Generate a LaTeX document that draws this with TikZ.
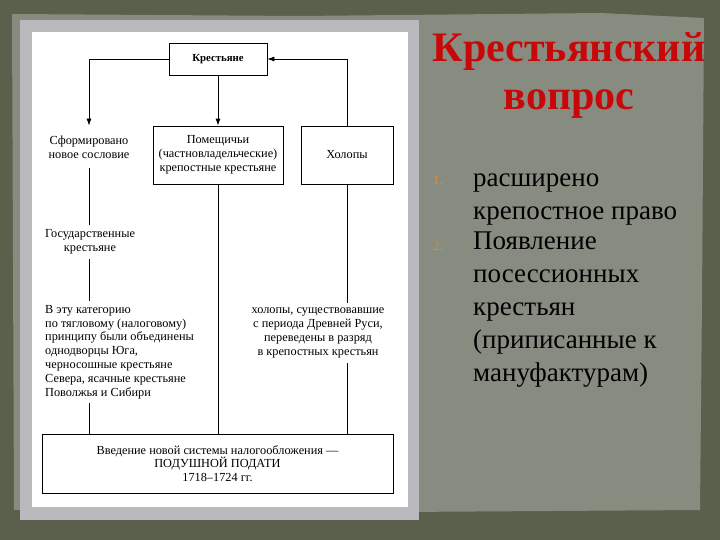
\documentclass[tikz,border=0pt]{standalone}
\usepackage{fontspec}
\setmainfont{Liberation Serif}
\usetikzlibrary{positioning, arrows, arrows.meta}
\definecolor{slidedark}{RGB}{90,96,76}
\definecolor{slidepaper}{RGB}{136,140,128}
\definecolor{framegray}{RGB}{186,186,190}
\definecolor{titlered}{RGB}{200,8,8}
\definecolor{numtan}{RGB}{206,142,72}
\tikzstyle{box} = [rectangle, draw=black, line width=0.7pt, text centered, align=center, font=\fontsize{12.3}{13.8}\selectfont]
\tikzstyle{plain} = [align=center, inner sep=0pt, font=\fontsize{12.3}{13.8}\selectfont]
\tikzstyle{link} = [line width=0.7pt]
\tikzstyle{arr} = [line width=0.7pt, -{Latex[length=7pt, width=5pt]}]
\tikzstyle{listtext} = [anchor=base west, align=left, inner sep=0pt, font=\fontsize{27}{33}\selectfont]
\tikzstyle{listnum} = [anchor=base west, inner sep=0pt, text=numtan, font=\fontsize{13}{14}\selectfont]

\begin{document}
\begin{tikzpicture}[x=1pt, y=-1pt]
    % slide background
    \fill[slidedark] (0,0) rectangle (720,540);
    \fill[slidepaper] (12,14) -- (300,16) -- (600,13) -- (704,18) -- (702,300) -- (700,510) -- (400,512) -- (120,508) -- (14,510) -- cycle;
    \useasboundingbox (0,0) rectangle (720,540);
    % scanned picture
    \fill[framegray] (20,20) rectangle (419,520);
    \fill[white] (32,32) rectangle (408,507);

    \node[box, font=\bfseries\fontsize{10.8}{12}\selectfont, minimum width=98pt, minimum height=32pt] (krest) at (218,59) {Крестьяне};
    \node[box, minimum width=130pt, minimum height=58pt] (pom) at (218,155) {Помещичьи\\(частновладельческие)\\крепостные крестьяне};
    \node[box, minimum width=92pt, minimum height=58pt] (holopy) at (347,155) {Холопы};
    \node[plain, inner ysep=10pt] (sform) at (89,147) {Сформировано\\новое сословие};
    \node[plain, inner ysep=5pt] (gos) at (90,242) {Государственные\\крестьяне};
    \node[plain, align=left, anchor=north west, inner ysep=4pt] (cat) at (45,301) {В эту категорию\\по тягловому (налоговому)\\принципу были объединены\\однодворцы Юга,\\черносошные крестьяне\\Севера, ясачные крестьяне\\Поволжья и Сибири};
    \node[plain, inner ysep=5pt] (hol2) at (318,333) {холопы, существовавшие\\с периода Древней Руси,\\переведены в разряд\\в крепостных крестьян};
    \node[box, minimum width=351pt, minimum height=59pt] (podat) at (217.5,463.5) {Введение новой системы налогообложения ---\\ПОДУШНОЙ ПОДАТИ\\1718--1724 гг.};

    \draw[arr] (krest.west) -| (sform.north);
    \draw[arr, line width=1pt] (krest.south) -- (pom.north);
    \draw[arr] (holopy.north) |- (krest.east);
    \draw[link] (sform.south) -- (sform.south |- gos.north);
    \draw[link] (sform.south |- gos.south) -- (sform.south |- cat.north);
    \draw[link] (sform.south |- cat.south) -- (sform.south |- podat.north);
    \draw[link, line width=1pt] (pom.south) -- (pom.south |- podat.north);
    \draw[link] (holopy.south) -- (holopy.south |- hol2.north);
    \draw[link] (holopy.south |- hol2.south) -- (holopy.south |- podat.north);

    % title and list
    \node[anchor=base, inner sep=0pt, text=titlered, font=\bfseries\fontsize{42}{48}\selectfont] (title1) at (569,62) {Крестьянский};
    \node[anchor=base, inner sep=0pt, text=titlered, font=\bfseries\fontsize{42}{48}\selectfont] (title2) at (569,110) {вопрос};
    \node[listnum] (num1) at (433,185) {1.};
    \node[listnum] (num2) at (433,250) {2.};
    \node[listtext] (item1) at (473,220) {расширено\\крепостное право};
    \node[listtext] (item2) at (473,381) {Появление\\посессионных\\крестьян\\(приписанные к\\мануфактурам)};
\end{tikzpicture}
\end{document}
